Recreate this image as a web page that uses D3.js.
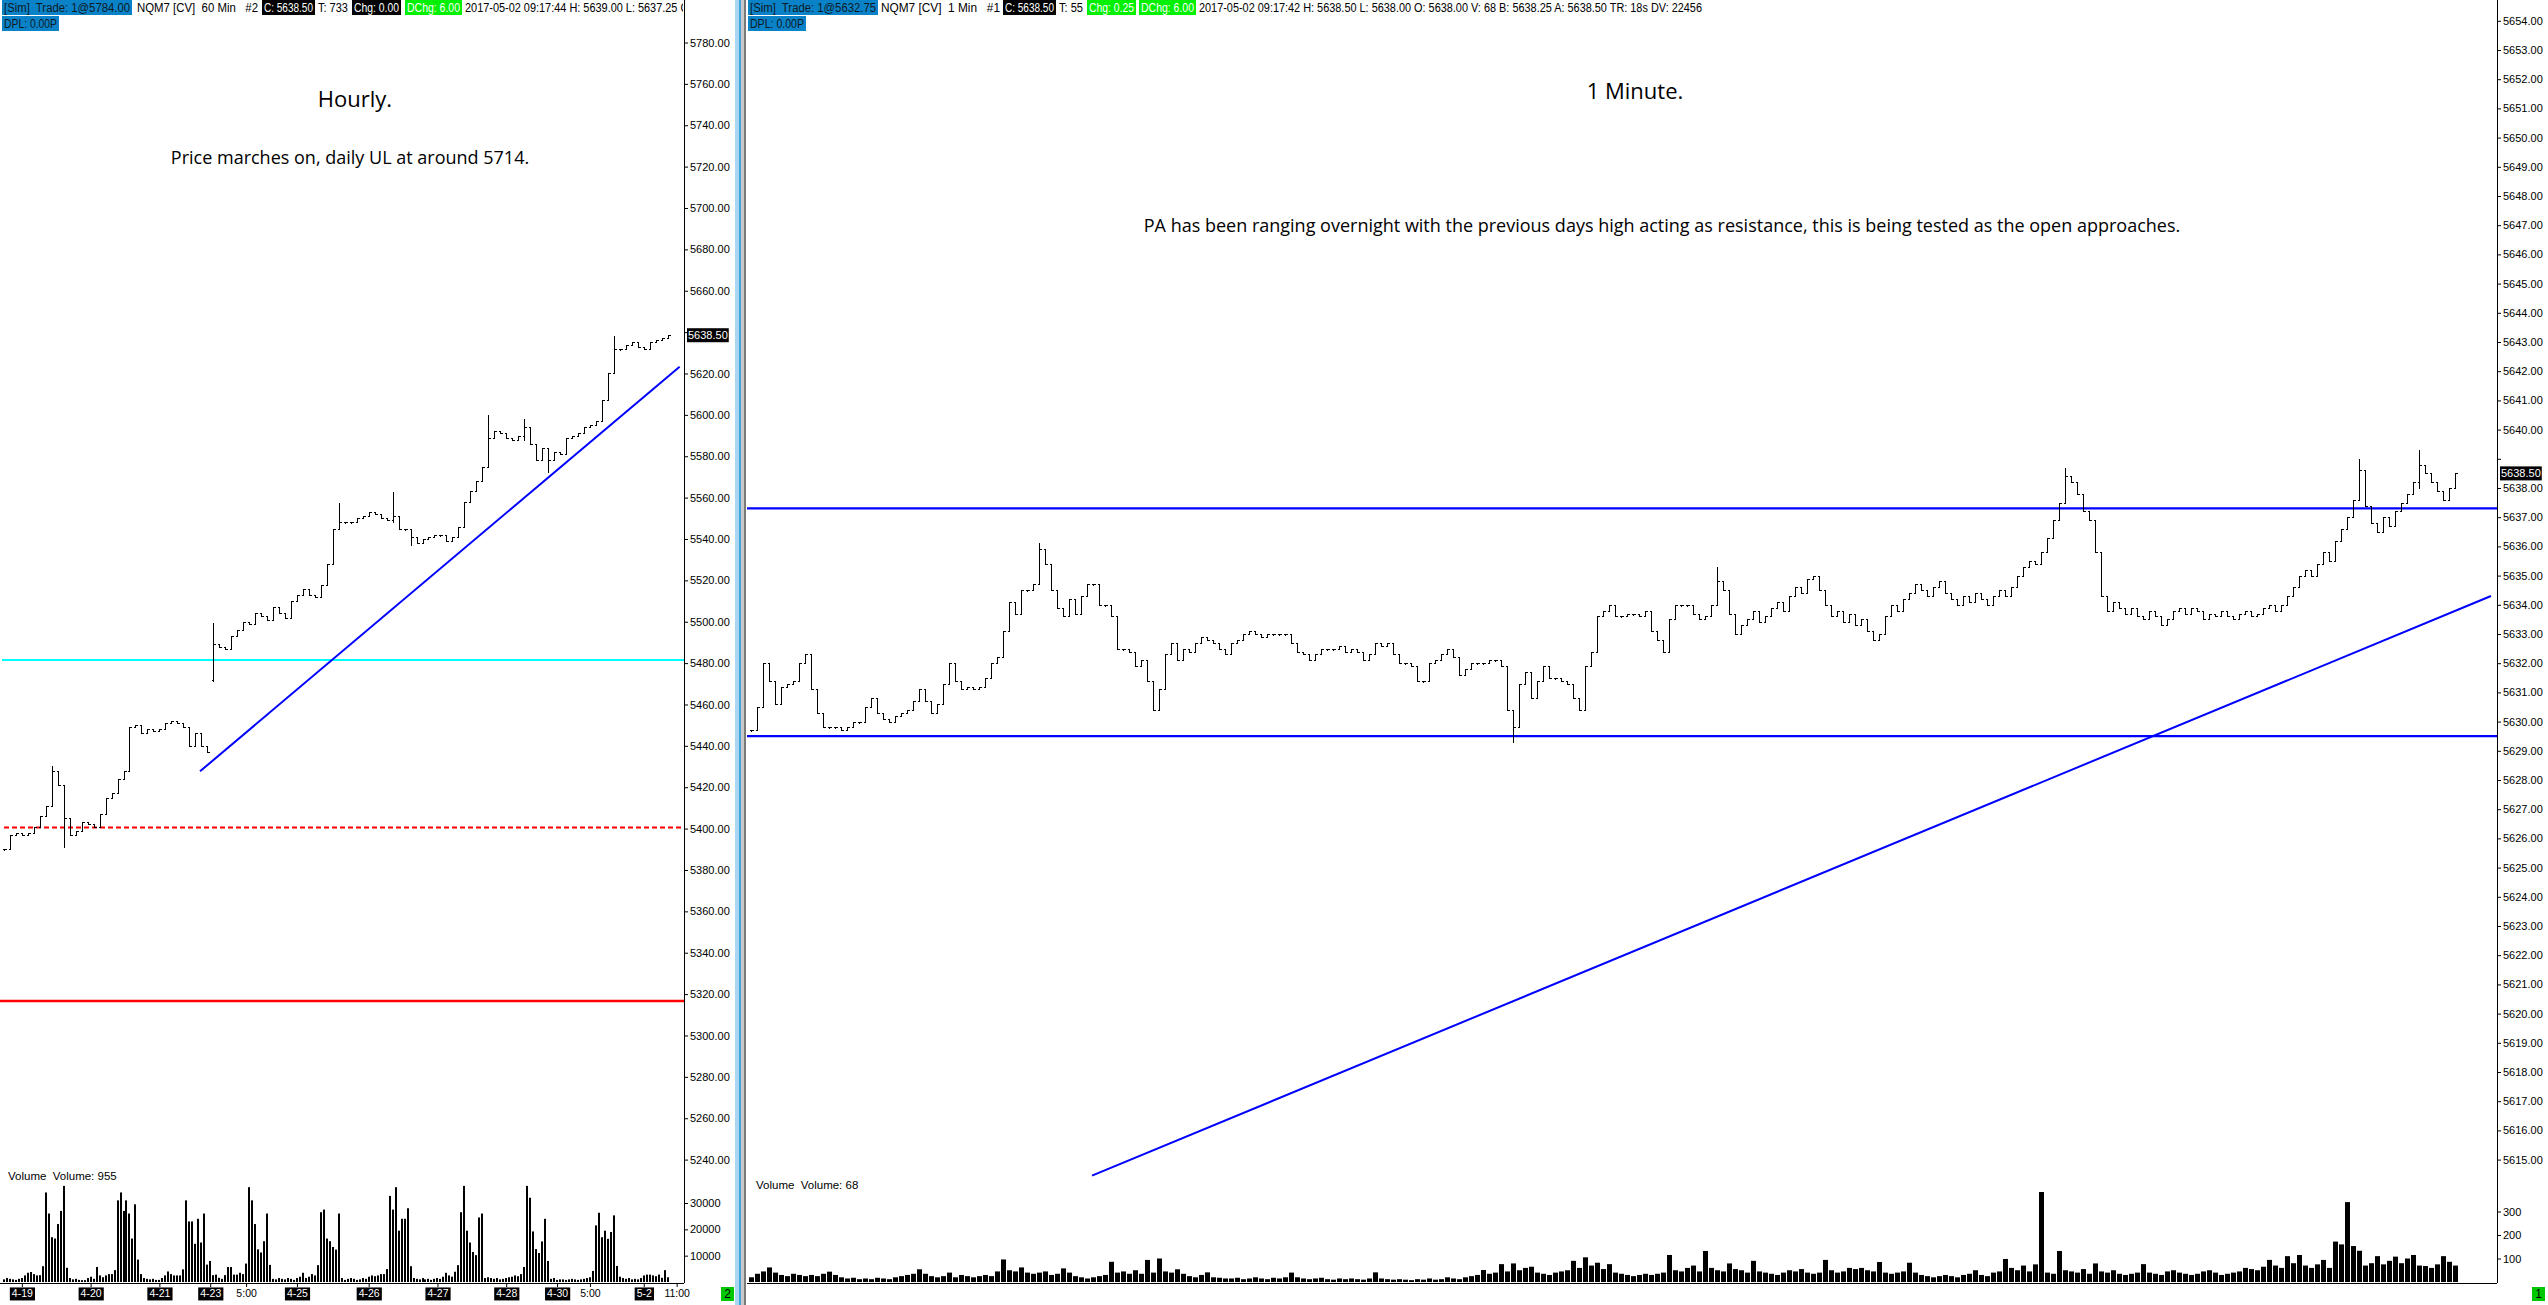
<!DOCTYPE html>
<html><head><meta charset="utf-8">
<script src="https://cdn.jsdelivr.net/npm/d3@7"></script>
<style>
body{margin:0;background:#fff;overflow:hidden}
svg{display:block}
</style></head><body><svg id="c" width="2548" height="1305"></svg>
<script>
// ---------------- DATA ----------------
// Left (hourly) panel: closes sampled every 2 hourly bars
const leftClose = [5390,5397,5398,5397,5398,5401,5406,5411,5428,5421,5405,5397,5399,5403,5402,5401,5407,5415,5417,5424,
5428,5449,5450,5446,5448,5447,5448,5451,5452,5451,5449,5440,5446,5440,5437,5489,5488,5487,5493,5496,
5500,5499,5504,5503,5501,5507,5504,5502,5510,5513,5516,5513,5512,5518,5528,5545,5548,5548,5548,5550,
5551,5553,5552,5550,5549,5551,5545,5545,5541,5538,5540,5541,5542,5542,5539,5541,5546,5558,5563,5568,
5575,5589,5592,5591,5589,5588,5590,5594,5586,5578,5584,5578,5582,5581,5589,5590,5591,5594,5595,5597,
5607,5620,5632,5632,5634,5635,5633,5632,5635,5636,5637,5638.5];
// [index, high, low, open override]
const leftWicks = [[8,5430.5,5420],[10,5410,5391],[35,5499.5,5471.5,5472],[56,5557.5,5545],[65,5562.5,5548],[68,5541,5537],[81,5600,5575],[87,5598,5588],[91,5584,5572.5],[102,5638,5621]];
// hourly volume, one value per bar
const leftVolume = [1000,1500,1200,1000,800,1200,1500,2500,3500,3800,3000,2500,2600,6000,
34000,26000,17000,16500,22000,27000,36500,5400,
1500,1000,1200,800,700,700,1500,2000,1200,5700,2500,1800,2500,3000,3000,
4500,31000,34000,27000,31000,26000,16500,29500,8500,3000,
1500,1200,1000,1200,800,800,1500,2500,4000,3000,2500,2500,2500,
4800,31000,23000,23000,14500,24000,15000,26000,6600,8000,
2600,2800,1600,1200,2600,5700,5700,2800,2800,3500,3000,7000,
36000,31000,22000,12400,11200,15500,26000,6500,
1200,1000,1500,1200,1000,1500,1200,800,1500,2000,3500,1500,2000,3000,2500,
6400,26500,27500,16500,15500,13300,12300,26000,
1500,800,1200,1500,1200,800,1000,1500,1200,2000,2500,2200,2500,3000,3000,4900,
32700,27500,36000,19500,24000,24000,28000,6000,
1500,1200,1000,1500,1000,1200,800,1200,1500,1200,2000,3500,2500,2000,
3900,6400,26500,36500,19500,15000,11400,10200,24500,26000,
1500,1800,1500,1200,1500,1000,1200,1500,1800,2000,2500,2200,3000,
5700,36500,32000,19200,12500,11000,15400,24000,8000,
1200,1500,800,1000,1000,800,1000,1200,1000,800,1000,1200,1500,1800,
4200,21500,26300,17000,19500,16400,19000,25300,6100,
2000,1500,1200,1500,1000,1200,1000,1500,2500,2800,2800,2500,2200,2800,1600,4500,1800];
const leftTickBars   = [6,29,52,69,81,98,122,145,168,185,196,214,225];
const leftTickLabels = ["4-19","4-20","4-21","4-23","5:00","4-25","4-26","4-27","4-28","4-30","5:00","5-2","11:00"];
const leftPriceTicks = [5240,5260,5280,5300,5320,5340,5360,5380,5400,5420,5440,5460,5480,5500,5520,5540,5560,5580,5600,5620,5640,5660,5680,5700,5720,5740,5760,5780];
const leftVolTicks = [10000,20000,30000];
const leftLevels = [5481.5,5400.5,5316.7];      // cyan, red dashed, red
const leftTrend = [[65.6,5427.7],[226,5623.3]];  // [bar, price]
const leftLast = 5638.5;

// Right (1 minute) panel: closes sampled every 3 minute bars
const rightClose = [5629.7,5630.5,5632.0,5631.4,5630.6,5631.2,5631.3,5631.4,5632.0,5632.3,
5631.1,5630.3,5629.8,5629.8,5629.8,5629.7,5629.8,5630.0,5630.0,5630.5,
5630.8,5630.3,5630.1,5630.0,5630.2,5630.3,5630.4,5630.7,5631.1,5630.7,
5630.3,5630.6,5631.3,5632.0,5631.4,5631.1,5631.2,5631.1,5631.2,5631.5,
5632.0,5632.2,5633.1,5634.1,5633.7,5634.5,5634.5,5634.7,5635.9,5635.4,
5634.5,5633.9,5633.6,5634.2,5633.7,5634.3,5634.7,5634.7,5634.0,5634.0,
5633.6,5632.5,5632.5,5632.4,5631.9,5632.1,5631.4,5630.4,5631.1,5632.3,
5632.7,5632.1,5632.5,5632.4,5632.7,5632.9,5632.8,5632.7,5632.5,5632.3,
5632.7,5632.8,5633.0,5633.1,5633.0,5632.9,5633.0,5633.0,5633.0,5633.0,
5632.7,5632.4,5632.3,5632.1,5632.3,5632.5,5632.5,5632.5,5632.6,5632.4,
5632.5,5632.4,5632.1,5632.3,5632.7,5632.6,5632.7,5632.3,5632.0,5632.0,
5631.9,5631.4,5631.4,5632.0,5632.1,5632.3,5632.5,5632.2,5631.6,5631.8,
5632.0,5632.0,5632.0,5632.1,5632.1,5631.9,5630.4,5629.8,5631.3,5631.7,
5630.8,5631.4,5631.9,5631.5,5631.5,5631.4,5631.3,5630.8,5630.4,5631.9,
5632.4,5633.6,5633.8,5634.0,5633.6,5633.6,5633.7,5633.7,5633.6,5633.8,
5633.1,5632.8,5632.4,5633.5,5634.0,5634.0,5634.0,5633.7,5633.5,5633.6,
5634.0,5634.8,5634.5,5633.7,5633.0,
5633.3,5633.5,5633.8,5633.4,5633.6,5633.9,5634.1,5633.8,5634.3,5634.6,5634.4,5634.9,
5635.0,5634.5,5634.0,5633.6,5633.8,5633.4,5633.7,5633.3,5633.5,5633.1,5632.8,
5633.0,5633.6,5634.0,5633.8,5634.2,5634.4,5634.7,5634.5,5634.3,5634.6,5634.8,5634.4,5634.2,
5634.0,5634.3,5634.1,5634.4,5634.2,5634.0,5634.3,5634.5,5634.3,5634.6,
5635.0,5635.3,5635.5,5635.4,5635.8,5636.3,5636.9,5637.5,5638.4,5638.2,5637.8,
5637.2,5636.9,5635.8,5634.3,5633.8,5634.1,
5633.9,5633.7,5633.9,5633.6,5633.5,5633.8,5633.6,5633.3,
5633.5,5633.8,5633.9,5633.7,5633.9,5633.8,5633.5,5633.7,5633.6,5633.8,
5633.6,5633.5,5633.7,5633.8,5633.6,5633.7,5633.9,5634.0,5633.8,5634.0,
5634.3,5634.6,5635.0,5635.2,5635.0,5635.4,5635.8,5635.5,5636.2,5636.6,
5637.0,5637.6,5638.6,5637.4,5636.8,5636.5,5637.0,5636.7,5637.2,5637.5,
5637.8,5638.2,5638.8,5638.5,5638.2,5637.9,5637.6,5638.0,5638.5];
const rightWicks = [[48,5636.1,5635.4],[127,5630.4,5629.3],[161,5635.3,5634.5],[219,5638.7,5637.5],[268,5639.0,5637.6],[278,5639.3,5638.0]];
const rightVolume = [20,35,45,62,40,30,25,35,30,25, 30,25,35,44,30,20,15,18,12,15,
12,18,15,12,20,25,30,35,54,35, 25,20,25,40,20,30,25,20,25,30,
25,45,96,50,45,62,40,35,40,45, 30,35,58,40,25,20,15,20,25,30,
86,40,45,35,50,35,94,40,100,45, 40,54,35,25,20,30,41,20,18,15,
15,18,12,15,20,15,12,18,15,20, 40,20,15,12,15,18,12,10,15,12,
15,12,10,15,41,15,12,10,12,10, 8,12,10,15,10,12,20,15,12,20,
25,30,51,35,40,76,45,79,50,60, 65,40,35,30,40,45,50,90,60,105,
70,82,55,76,40,35,30,25,30,35, 30,35,40,115,50,45,60,70,45,132,
60,50,45,79,55,50,40,90,45,40, 35,30,40,50,45,55,40,35,40,94,
50,40,45,60,55,60,50,45,85,40, 35,40,45,82,40,30,25,20,25,30,
25,20,30,35,50,30,25,40,45,98, 60,50,70,45,75,383,40,35,132,50,
45,40,55,35,79,45,40,50,35,30, 35,40,76,40,35,30,45,50,40,35,
30,35,45,50,40,30,35,40,45,60, 55,50,65,94,70,60,110,80,115,70,
60,75,94,60,172,160,340,153,133,70, 80,110,75,90,108,80,100,115,70,68,
60,75,110,86,70];
const rightTickBars = [-5,17,35,53,71,89,106,124,141,160,177,195,213,231,248,267,284,313,327,342,357,372,387,402,418,432,
447,463,479,494,510,525,540,556,570,585,601,616,631,646,661,676,691,706,721,737,752,767,782,797,812,827,842,857,873];
const rightTickLabels = ["18:18","18:37","18:55","19:16","19:42","20:03","20:23","20:41","20:59","21:17","21:36","21:54","22:12","22:30","22:50","23:09","23:30","5-2","0:18","0:34","0:54","1:12","1:29","1:45","2:01","2:16",
"2:31","2:46","3:01","3:16","3:31","3:46","4:01","4:16","4:31","4:46","5:01","5:17","5:32","5:47","6:02","6:17","6:32","6:47","7:03","7:18","7:33","7:48","8:03","8:18","8:33","8:48","9:03","9:18","9:33"];
const rightPriceTicks = [5615,5616,5617,5618,5619,5620,5621,5622,5623,5624,5625,5626,5627,5628,5629,5630,5631,5632,5633,5634,5635,5636,5637,5638,5639,5640,5641,5642,5643,5644,5645,5646,5647,5648,5649,5650,5651,5652,5653,5654];
const rightVolTicks = [100,200,300];
const rightLevels = [5637.3,5629.5];
const rightTrend = [[170.5,5614.45],[870,5634.3]];
const rightLast = 5638.5;

const leftHeader = ["[Sim]  Trade: 1@5784.00","NQM7 [CV]  60 Min   #2","C: 5638.50","T: 733","Chg: 0.00","DChg: 6.00","2017-05-02 09:17:44 H: 5639.00 L: 5637.25 O:"];
const rightHeader = ["[Sim]  Trade: 1@5632.75","NQM7 [CV]  1 Min   #1","C: 5638.50","T: 55","Chg: 0.25","DChg: 6.00","2017-05-02 09:17:42 H: 5638.50 L: 5638.00 O: 5638.00 V: 68 B: 5638.25 A: 5638.50 TR: 18s DV: 22456"];
const dplText = "DPL: 0.00P";
const leftNotes = ["Hourly.","Price marches on, daily UL at around 5714."];
const rightNotes = ["1 Minute.","PA has been ranging overnight with the previous days high acting as resistance, this is being tested as the open approaches."];
const leftVolLabel = "Volume  Volume: 955";
const rightVolLabel = "Volume  Volume: 68";
const panelIds = ["2","1"];

// ---------------- DRAW ----------------
const SANS = '"Liberation Sans",Arial,sans-serif';
const NOTE = '"Open Sans","Noto Sans",sans-serif';
const svg = d3.select('#c');
const defs = svg.append('defs');
defs.append('clipPath').attr('id','clipL').append('rect').attr('x',0).attr('y',0).attr('width',684).attr('height',1283);
defs.append('clipPath').attr('id','clipR').append('rect').attr('x',747).attr('y',0).attr('width',1750).attr('height',1283);
defs.append('clipPath').attr('id','clipHL').append('rect').attr('x',0).attr('y',0).attr('width',683).attr('height',40);
defs.append('clipPath').attr('id','clipAxR').append('rect').attr('x',747).attr('y',1270).attr('width',1801).attr('height',40);

// scales
const xL = d3.scaleLinear().domain([0,228]).range([3.9, 3.9+228*2.99]);
const yL = d3.scaleLinear().domain([5240,5780]).range([1159.6,42.5]);
const yLV = d3.scaleLinear().domain([0,30000]).range([1282,1203]);
const xR = d3.scaleLinear().domain([0,873]).range([751,2497]);
const yR = d3.scaleLinear().domain([5615,5654]).range([1159.6,20.8]);
const yRV = d3.scaleLinear().domain([0,300]).range([1282,1211.5]);

// divider between panels
svg.append('rect').attr('x',735).attr('y',0).attr('width',4).attr('height',1305).attr('fill','#a9d6f2');
svg.append('rect').attr('x',739).attr('y',0).attr('width',2).attr('height',1305).attr('fill','#45a3dc');
svg.append('rect').attr('x',741).attr('y',0).attr('width',3).attr('height',1305).attr('fill','#c9c9c9');
svg.append('rect').attr('x',744).attr('y',0).attr('width',2).attr('height',1305).attr('fill','#7a7a7a');

function priceBars(g, closes, xOf, y, wicks, tw){
  const wm = new Map(wicks.map(w=>[w[0],w]));
  const bars = closes.map((c,i)=>{
    const w = wm.get(i);
    const o = (w && w[3]!=null) ? w[3] : (i ? closes[i-1] : c);
    let hi = Math.max(o,c), lo = Math.min(o,c);
    if (w){ hi = Math.max(hi,w[1]); lo = Math.min(lo,w[2]); }
    return {i,o,c,hi,lo};
  });
  const r = v => Math.round(y(v))+0.5;
  g.selectAll('path.bar').data(bars).join('path').attr('class','bar')
    .attr('d', d=>{
      const x = Math.round(xOf(d.i))+0.5;
      const yh = Math.round(y(d.hi)), yl = Math.max(Math.round(y(d.lo)), yh+1);
      return `M${x},${yh}V${yl+0.5}M${x-tw},${r(d.o)}H${x}M${x},${r(d.c)}H${x+tw}`;
    })
    .attr('stroke','#000').attr('stroke-width',1).attr('fill','none');
}

function yAxis(x, scale, ticks, fmt, hideNear){
  const ax = d3.axisRight(scale).tickValues(ticks).tickFormat(fmt).tickSize(4).tickPadding(2);
  const g = svg.append('g').attr('transform',`translate(${x},0)`).call(ax);
  g.select('.domain').remove();
  g.selectAll('line').attr('stroke','#000');
  g.selectAll('text').attr('font-family',SANS).attr('font-size',11).attr('fill','#000');
  if (hideNear!=null) g.selectAll('.tick').filter(d=>Math.abs(scale(d)-hideNear)<9).select('text').remove();
  return g;
}

function xAxis(x0, x1, scale, bars, labels, clipId){
  const ax = d3.axisBottom(scale).tickValues(bars).tickFormat((d,i)=>labels[i]).tickSize(4).tickPadding(3);
  const g = svg.append('g').attr('transform','translate(0,1283)').call(ax);
  if (clipId) g.attr('clip-path',`url(#${clipId})`);
  g.select('.domain').remove();
  g.selectAll('line').attr('stroke','#000');
  g.selectAll('text').attr('font-family',SANS).attr('font-size',10.5).attr('fill','#000');
  g.selectAll('.tick').each(function(d,i){
    if (labels[i].indexOf('-')>=0){
      const t = d3.select(this).select('text').attr('fill','#fff');
      const bb = t.node().getBBox();
      d3.select(this).insert('rect','text').attr('x',bb.x-2).attr('y',bb.y).attr('width',bb.width+4).attr('height',bb.height+1).attr('fill','#000');
    }
  });
  svg.append('line').attr('x1',x0).attr('x2',x1).attr('y1',1283.5).attr('y2',1283.5).attr('stroke','#000');
  return g;
}

function marker(x, y, val){
  const g = svg.append('g');
  const t = g.append('text').attr('x',x+2).attr('y',y).attr('dy','0.35em').attr('font-family',SANS).attr('font-size',11).attr('fill','#fff').text(d3.format('.2f')(val));
  const bb = t.node().getBBox();
  g.insert('rect','text').attr('x',bb.x-1).attr('y',y-7).attr('width',bb.width+2).attr('height',14).attr('fill','#000');
}

// header segments: [text, x0, x1, bg, fg]
function header(y, segs, clip){
  const g = svg.append('g').attr('font-family',SANS).attr('font-size',12);
  if (clip) g.attr('clip-path',`url(#${clip})`);
  segs.forEach(([t,x0,x1,bg,fg])=>{
    if (bg) g.append('rect').attr('x',x0).attr('y',y).attr('width',x1-x0).attr('height',15).attr('fill',bg);
    g.append('text').attr('x',x0+2).attr('y',y+12).attr('fill',fg||'#000').style('white-space','pre')
      .attr('textLength',x1-x0-4).attr('lengthAdjust','spacingAndGlyphs').text(t);
  });
}

// ---------- LEFT PANEL ----------
const gL = svg.append('g').attr('clip-path','url(#clipL)');
gL.append('g').selectAll('rect').data(leftVolume).join('rect')
  .attr('x',(d,i)=>Math.round(xL(i))-1).attr('width',2)
  .attr('y',d=>yLV(d)).attr('height',d=>yLV(0)-yLV(d)).attr('fill','#000');
gL.append('line').attr('x1',2).attr('x2',684).attr('y1',yL(leftLevels[0])).attr('y2',yL(leftLevels[0])).attr('stroke','#00ffff').attr('stroke-width',2);
gL.append('line').attr('x1',4).attr('x2',684).attr('y1',yL(leftLevels[1])).attr('y2',yL(leftLevels[1])).attr('stroke','#ff0000').attr('stroke-width',2).attr('stroke-dasharray','5,3');
gL.append('line').attr('x1',0).attr('x2',684).attr('y1',yL(leftLevels[2])).attr('y2',yL(leftLevels[2])).attr('stroke','#ff0000').attr('stroke-width',2.5);
priceBars(gL.append('g').attr('shape-rendering','crispEdges'), leftClose, i=>xL(i*2), yL, leftWicks, 2);
gL.append('line').attr('x1',xL(leftTrend[0][0])).attr('y1',yL(leftTrend[0][1])).attr('x2',xL(leftTrend[1][0])).attr('y2',yL(leftTrend[1][1])).attr('stroke','#0000ff').attr('stroke-width',2);
svg.append('line').attr('x1',684.5).attr('x2',684.5).attr('y1',0).attr('y2',1283).attr('stroke','#000');
yAxis(684, yL, leftPriceTicks, d3.format('.2f'), yL(leftLast));
yAxis(684, yLV, leftVolTicks, d3.format('d'));
marker(686, yL(leftLast), leftLast);
xAxis(0, 684, xL, leftTickBars, leftTickLabels, null);

// ---------- RIGHT PANEL ----------
const gR = svg.append('g').attr('clip-path','url(#clipR)');
gR.append('g').selectAll('rect').data(rightVolume).join('rect')
  .attr('x',(d,i)=>Math.round(xR(i*3))-2).attr('width',5)
  .attr('y',d=>yRV(d)).attr('height',d=>yRV(0)-yRV(d)).attr('fill','#000');
rightLevels.forEach(p=>{
  gR.append('line').attr('x1',747).attr('x2',2497).attr('y1',yR(p)).attr('y2',yR(p)).attr('stroke','#0000ff').attr('stroke-width',2.2);
});
priceBars(gR.append('g').attr('shape-rendering','crispEdges'), rightClose, i=>xR(i*3), yR, rightWicks, 2);
gR.append('line').attr('x1',xR(rightTrend[0][0])).attr('y1',yR(rightTrend[0][1])).attr('x2',xR(rightTrend[1][0])).attr('y2',yR(rightTrend[1][1])).attr('stroke','#0000ff').attr('stroke-width',2);
svg.append('line').attr('x1',2497.5).attr('x2',2497.5).attr('y1',0).attr('y2',1283).attr('stroke','#000');
yAxis(2497, yR, rightPriceTicks, d3.format('.2f'), yR(rightLast)-20);
yAxis(2497, yRV, rightVolTicks, d3.format('d'));
marker(2499, yR(rightLast), rightLast);
xAxis(747, 2497, xR, rightTickBars, rightTickLabels, 'clipAxR');

// ---------- HEADERS ----------
const BLUE = '#0a82c8', GREEN = '#00f000', INK = '#0d1a26';
header(0, [
  [leftHeader[0],2,132,BLUE,INK],[leftHeader[1],135,260],[leftHeader[2],262,315,'#000','#fff'],
  [leftHeader[3],316,350],[leftHeader[4],352,401,'#000','#fff'],[leftHeader[5],405,462,GREEN,'#fff'],
  [leftHeader[6],463,694]], 'clipHL');
header(16, [[dplText,2,59,BLUE,INK]]);
header(0, [
  [rightHeader[0],748,878,BLUE,INK],[rightHeader[1],879,1002],[rightHeader[2],1003,1056,'#000','#fff'],
  [rightHeader[3],1057,1085],[rightHeader[4],1087,1136,GREEN,'#fff'],[rightHeader[5],1139,1196,GREEN,'#fff'],
  [rightHeader[6],1197,1704]]);
header(16, [[dplText,748,806,BLUE,INK]]);

// notes
svg.append('text').attr('x',355).attr('y',107).attr('text-anchor','middle').attr('font-family',NOTE).attr('font-size',22).text(leftNotes[0]);
svg.append('text').attr('x',350).attr('y',164).attr('text-anchor','middle').attr('font-family',NOTE).attr('font-size',18).text(leftNotes[1]);
svg.append('text').attr('x',1635).attr('y',99).attr('text-anchor','middle').attr('font-family',NOTE).attr('font-size',22).text(rightNotes[0]);
svg.append('text').attr('x',1662).attr('y',232).attr('text-anchor','middle').attr('font-family',NOTE).attr('font-size',18).text(rightNotes[1]);

// volume labels
svg.append('text').attr('x',8).attr('y',1180).attr('font-family',SANS).attr('font-size',11.5).style('white-space','pre').text(leftVolLabel);
svg.append('text').attr('x',756).attr('y',1189).attr('font-family',SANS).attr('font-size',11.5).style('white-space','pre').text(rightVolLabel);

// panel id boxes
[[721,panelIds[0]],[2532,panelIds[1]]].forEach(([x,t])=>{
  svg.append('rect').attr('x',x).attr('y',1287).attr('width',13).attr('height',14).attr('fill','#00c800');
  svg.append('text').attr('x',x+6.5).attr('y',1298).attr('text-anchor','middle').attr('font-family',SANS).attr('font-size',12).text(t);
});
</script></body></html>
